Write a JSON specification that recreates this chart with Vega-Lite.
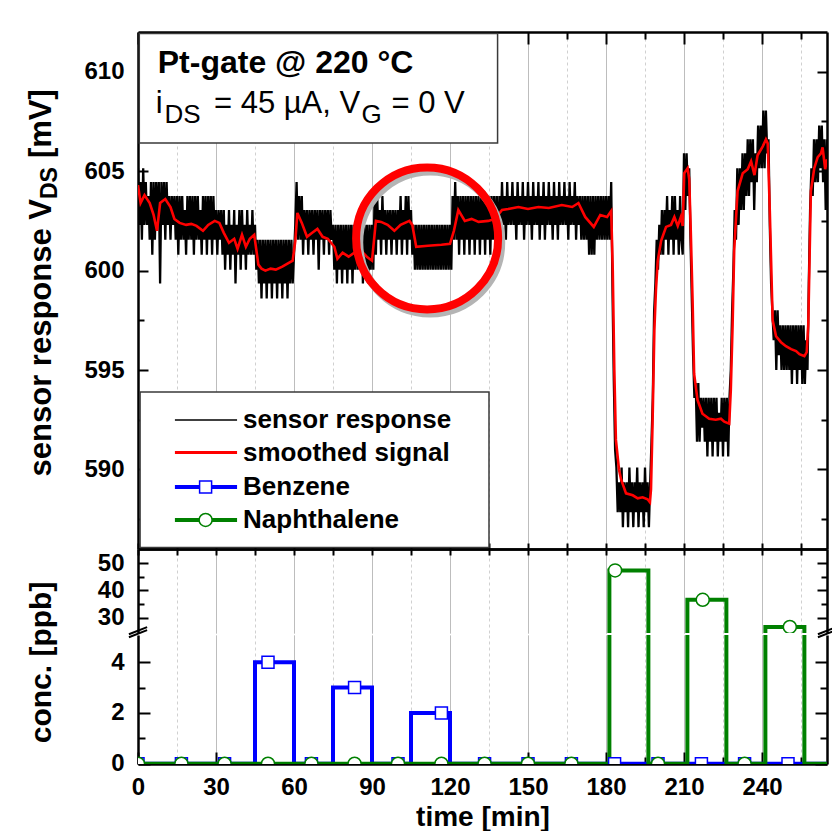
{
"$schema": "https://vega.github.io/schema/vega-lite/v6.json",
"background": "white",
"padding": {"left": 26, "top": 31, "right": 0, "bottom": 0},
"config": {
 "view": {"stroke": null},
 "font": "Liberation Sans, Arial, sans-serif",
 "axis": {"domainColor": "black", "domainWidth": 2.5, "tickColor": "black", "tickWidth": 2, "labelColor": "black", "labelFontWeight": "bold", "labelFontSize": 24, "titleColor": "black", "titleFontWeight": "bold", "labelFont": "Liberation Sans, Arial, sans-serif", "titleFont": "Liberation Sans, Arial, sans-serif", "grid": false, "labelFlush": false, "labelOverlap": false}
},
"datasets": {
 "raw": [
{"t":0,"v":605.15},{"t":0.5,"v":602.3},{"t":1,"v":604.45},{"t":1.5,"v":601.55},{"t":2,"v":605.15},{"t":2.5,"v":602.3},{"t":3,"v":604.45},{"t":3.5,"v":602.3},{"t":4,"v":603.75},{"t":4.5,"v":601.55},
{"t":5,"v":604.45},{"t":5.5,"v":600.8},{"t":6,"v":604.45},{"t":6.5,"v":601.55},{"t":7,"v":604.45},{"t":7.5,"v":602.3},{"t":8,"v":604.45},{"t":8.5,"v":599.35},{"t":9,"v":604.45},{"t":9.5,"v":602.3},
{"t":10,"v":604.45},{"t":10.5,"v":601.55},{"t":11,"v":604.45},{"t":11.5,"v":602.3},{"t":12,"v":603.75},{"t":12.5,"v":601.55},{"t":13,"v":603.75},{"t":13.5,"v":602.3},{"t":14,"v":603.75},{"t":14.5,"v":601.55},
{"t":15,"v":603.75},{"t":15.5,"v":600.8},{"t":16,"v":603.75},{"t":16.5,"v":601.55},{"t":17,"v":603.75},{"t":17.5,"v":601.55},{"t":18,"v":603.05},{"t":18.5,"v":600.8},{"t":19,"v":603.75},{"t":19.5,"v":601.55},
{"t":20,"v":603.75},{"t":20.5,"v":601.55},{"t":21,"v":603.75},{"t":21.5,"v":600.8},{"t":22,"v":603.75},{"t":22.5,"v":601.55},{"t":23,"v":603.75},{"t":23.5,"v":601.55},{"t":24,"v":603.05},{"t":24.5,"v":600.8},
{"t":25,"v":603.75},{"t":25.5,"v":601.55},{"t":26,"v":603.75},{"t":26.5,"v":600.8},{"t":27,"v":603.75},{"t":27.5,"v":601.55},{"t":28,"v":603.75},{"t":28.5,"v":600.8},{"t":29,"v":603.75},{"t":29.5,"v":601.55},
{"t":30,"v":603.05},{"t":30.5,"v":600.8},{"t":31,"v":603.05},{"t":31.5,"v":601.55},{"t":32,"v":603.05},{"t":32.5,"v":600.8},{"t":33,"v":603.05},{"t":33.5,"v":600.05},{"t":34,"v":602.3},{"t":34.5,"v":600.8},
{"t":35,"v":603.05},{"t":35.5,"v":600.05},{"t":36,"v":602.3},{"t":36.5,"v":600.8},{"t":37,"v":603.05},{"t":37.5,"v":599.35},{"t":38,"v":602.3},{"t":38.5,"v":600.8},{"t":39,"v":603.05},{"t":39.5,"v":600.05},
{"t":40,"v":603.05},{"t":40.5,"v":600.8},{"t":41,"v":602.3},{"t":41.5,"v":600.05},{"t":42,"v":603.05},{"t":42.5,"v":600.8},{"t":43,"v":602.3},{"t":43.5,"v":600.8},{"t":44,"v":603.05},{"t":44.5,"v":600.8},
{"t":45,"v":602.3},{"t":45.5,"v":600.05},{"t":46,"v":601.55},{"t":46.5,"v":599.35},{"t":47,"v":601.55},{"t":47.5,"v":598.6},{"t":48,"v":601.55},{"t":48.5,"v":599.35},{"t":49,"v":601.55},{"t":49.5,"v":598.6},
{"t":50,"v":601.55},{"t":50.5,"v":599.35},{"t":51,"v":601.55},{"t":51.5,"v":598.6},{"t":52,"v":601.55},{"t":52.5,"v":599.35},{"t":53,"v":601.55},{"t":53.5,"v":598.6},{"t":54,"v":601.55},{"t":54.5,"v":599.35},
{"t":55,"v":601.55},{"t":55.5,"v":598.6},{"t":56,"v":601.55},{"t":56.5,"v":599.35},{"t":57,"v":601.55},{"t":57.5,"v":598.6},{"t":58,"v":601.55},{"t":58.5,"v":599.35},{"t":59,"v":601.55},{"t":59.5,"v":599.35},
{"t":60,"v":600.8},{"t":60.5,"v":602.3},{"t":61,"v":604.45},{"t":61.5,"v":601.55},{"t":62,"v":603.75},{"t":62.5,"v":601.55},{"t":63,"v":603.75},{"t":63.5,"v":600.8},{"t":64,"v":603.05},{"t":64.5,"v":601.55},
{"t":65,"v":603.05},{"t":65.5,"v":600.8},{"t":66,"v":603.05},{"t":66.5,"v":601.55},{"t":67,"v":603.05},{"t":67.5,"v":600.8},{"t":68,"v":603.05},{"t":68.5,"v":601.55},{"t":69,"v":603.05},{"t":69.5,"v":600.05},
{"t":70,"v":603.05},{"t":70.5,"v":601.55},{"t":71,"v":603.05},{"t":71.5,"v":600.8},{"t":72,"v":603.05},{"t":72.5,"v":601.55},{"t":73,"v":603.05},{"t":73.5,"v":600.8},{"t":74,"v":603.05},{"t":74.5,"v":601.55},
{"t":75,"v":602.3},{"t":75.5,"v":600.05},{"t":76,"v":602.3},{"t":76.5,"v":599.35},{"t":77,"v":602.3},{"t":77.5,"v":600.05},{"t":78,"v":602.3},{"t":78.5,"v":599.35},{"t":79,"v":602.3},{"t":79.5,"v":600.05},
{"t":80,"v":602.3},{"t":80.5,"v":599.35},{"t":81,"v":602.3},{"t":81.5,"v":600.05},{"t":82,"v":602.3},{"t":82.5,"v":599.35},{"t":83,"v":602.3},{"t":83.5,"v":600.05},{"t":84,"v":602.3},{"t":84.5,"v":600.05},
{"t":85,"v":602.3},{"t":85.5,"v":600.05},{"t":86,"v":602.3},{"t":86.5,"v":599.35},{"t":87,"v":602.3},{"t":87.5,"v":600.05},{"t":88,"v":602.3},{"t":88.5,"v":599.35},{"t":89,"v":602.3},{"t":89.5,"v":600.05},
{"t":90,"v":602.3},{"t":90.5,"v":600.05},{"t":91,"v":603.75},{"t":91.5,"v":600.8},{"t":92,"v":603.75},{"t":92.5,"v":601.55},{"t":93,"v":603.05},{"t":93.5,"v":600.8},{"t":94,"v":603.75},{"t":94.5,"v":601.55},
{"t":95,"v":603.05},{"t":95.5,"v":600.8},{"t":96,"v":603.05},{"t":96.5,"v":601.55},{"t":97,"v":603.05},{"t":97.5,"v":600.8},{"t":98,"v":603.05},{"t":98.5,"v":601.55},{"t":99,"v":603.05},{"t":99.5,"v":600.8},
{"t":100,"v":603.05},{"t":100.5,"v":601.55},{"t":101,"v":603.75},{"t":101.5,"v":600.8},{"t":102,"v":603.05},{"t":102.5,"v":601.55},{"t":103,"v":603.75},{"t":103.5,"v":600.8},{"t":104,"v":603.75},{"t":104.5,"v":601.55},
{"t":105,"v":603.05},{"t":105.5,"v":600.8},{"t":106,"v":602.3},{"t":106.5,"v":600.05},{"t":107,"v":602.3},{"t":107.5,"v":600.05},{"t":108,"v":602.3},{"t":108.5,"v":600.05},{"t":109,"v":602.3},{"t":109.5,"v":600.05},
{"t":110,"v":602.3},{"t":110.5,"v":600.05},{"t":111,"v":602.3},{"t":111.5,"v":600.05},{"t":112,"v":602.3},{"t":112.5,"v":600.05},{"t":113,"v":602.3},{"t":113.5,"v":600.05},{"t":114,"v":602.3},{"t":114.5,"v":600.05},
{"t":115,"v":602.3},{"t":115.5,"v":600.05},{"t":116,"v":602.3},{"t":116.5,"v":600.05},{"t":117,"v":602.3},{"t":117.5,"v":600.05},{"t":118,"v":602.3},{"t":118.5,"v":600.05},{"t":119,"v":602.3},{"t":119.5,"v":600.05},
{"t":120,"v":602.3},{"t":120.5,"v":600.05},{"t":121,"v":603.75},{"t":121.5,"v":601.55},{"t":122,"v":604.45},{"t":122.5,"v":601.55},{"t":123,"v":603.75},{"t":123.5,"v":600.8},{"t":124,"v":603.75},{"t":124.5,"v":601.55},
{"t":125,"v":603.75},{"t":125.5,"v":600.8},{"t":126,"v":603.75},{"t":126.5,"v":601.55},{"t":127,"v":603.75},{"t":127.5,"v":600.8},{"t":128,"v":603.75},{"t":128.5,"v":601.55},{"t":129,"v":603.75},{"t":129.5,"v":600.8},
{"t":130,"v":603.75},{"t":130.5,"v":601.55},{"t":131,"v":603.75},{"t":131.5,"v":600.8},{"t":132,"v":603.75},{"t":132.5,"v":601.55},{"t":133,"v":603.75},{"t":133.5,"v":600.8},{"t":134,"v":603.75},{"t":134.5,"v":601.55},
{"t":135,"v":603.75},{"t":135.5,"v":600.8},{"t":136,"v":603.75},{"t":136.5,"v":601.55},{"t":137,"v":603.75},{"t":137.5,"v":601.55},{"t":138,"v":603.75},{"t":138.5,"v":600.8},{"t":139,"v":603.75},{"t":139.5,"v":601.55},
{"t":140,"v":604.45},{"t":140.5,"v":602.3},{"t":141,"v":603.75},{"t":141.5,"v":601.55},{"t":142,"v":604.45},{"t":142.5,"v":602.3},{"t":143,"v":603.75},{"t":143.5,"v":602.3},{"t":144,"v":604.45},{"t":144.5,"v":602.3},
{"t":145,"v":603.75},{"t":145.5,"v":601.55},{"t":146,"v":604.45},{"t":146.5,"v":602.3},{"t":147,"v":603.75},{"t":147.5,"v":602.3},{"t":148,"v":604.45},{"t":148.5,"v":601.55},{"t":149,"v":603.75},{"t":149.5,"v":602.3},
{"t":150,"v":604.45},{"t":150.5,"v":602.3},{"t":151,"v":603.75},{"t":151.5,"v":601.55},{"t":152,"v":604.45},{"t":152.5,"v":602.3},{"t":153,"v":603.75},{"t":153.5,"v":602.3},{"t":154,"v":604.45},{"t":154.5,"v":601.55},
{"t":155,"v":603.75},{"t":155.5,"v":602.3},{"t":156,"v":604.45},{"t":156.5,"v":601.55},{"t":157,"v":603.75},{"t":157.5,"v":602.3},{"t":158,"v":604.45},{"t":158.5,"v":602.3},{"t":159,"v":603.75},{"t":159.5,"v":601.55},
{"t":160,"v":604.45},{"t":160.5,"v":602.3},{"t":161,"v":603.75},{"t":161.5,"v":601.55},{"t":162,"v":604.45},{"t":162.5,"v":602.3},{"t":163,"v":603.75},{"t":163.5,"v":602.3},{"t":164,"v":604.45},{"t":164.5,"v":602.3},
{"t":165,"v":603.75},{"t":165.5,"v":601.55},{"t":166,"v":604.45},{"t":166.5,"v":602.3},{"t":167,"v":603.75},{"t":167.5,"v":602.3},{"t":168,"v":604.45},{"t":168.5,"v":601.55},{"t":169,"v":603.75},{"t":169.5,"v":602.3},
{"t":170,"v":603.75},{"t":170.5,"v":601.55},{"t":171,"v":603.75},{"t":171.5,"v":601.55},{"t":172,"v":603.75},{"t":172.5,"v":601.55},{"t":173,"v":603.75},{"t":173.5,"v":600.8},{"t":174,"v":603.75},{"t":174.5,"v":600.8},
{"t":175,"v":603.75},{"t":175.5,"v":600.8},{"t":176,"v":603.75},{"t":176.5,"v":601.55},{"t":177,"v":603.75},{"t":177.5,"v":601.55},{"t":178,"v":603.75},{"t":178.5,"v":601.55},{"t":179,"v":603.75},{"t":179.5,"v":601.55},
{"t":180,"v":603.75},{"t":180.5,"v":601.55},{"t":181,"v":603.75},{"t":181.5,"v":601.55},{"t":182,"v":604.45},{"t":182.5,"v":599.0},{"t":183,"v":594.5},{"t":183.5,"v":591.0},{"t":184,"v":590.1},{"t":184.5,"v":587.85},
{"t":185,"v":589.35},{"t":185.5,"v":587.85},{"t":186,"v":590.1},{"t":186.5,"v":587.1},{"t":187,"v":589.35},{"t":187.5,"v":587.85},{"t":188,"v":589.35},{"t":188.5,"v":587.1},{"t":189,"v":590.1},{"t":189.5,"v":587.85},
{"t":190,"v":589.35},{"t":190.5,"v":587.1},{"t":191,"v":589.35},{"t":191.5,"v":587.85},{"t":192,"v":590.1},{"t":192.5,"v":587.1},{"t":193,"v":589.35},{"t":193.5,"v":587.85},{"t":194,"v":589.35},{"t":194.5,"v":587.1},
{"t":195,"v":590.1},{"t":195.5,"v":587.85},{"t":196,"v":589.35},{"t":196.5,"v":587.1},{"t":197,"v":589.35},{"t":197.5,"v":591.4},{"t":198,"v":593.6},{"t":198.5,"v":597.9},{"t":199,"v":599.35},{"t":199.5,"v":601.55},
{"t":200,"v":600.05},{"t":200.5,"v":602.3},{"t":201,"v":600.8},{"t":201.5,"v":603.05},{"t":202,"v":600.8},{"t":202.5,"v":603.05},{"t":203,"v":601.55},{"t":203.5,"v":603.75},{"t":204,"v":600.8},{"t":204.5,"v":603.05},
{"t":205,"v":601.55},{"t":205.5,"v":603.75},{"t":206,"v":600.8},{"t":206.5,"v":603.75},{"t":207,"v":601.55},{"t":207.5,"v":603.05},{"t":208,"v":600.8},{"t":208.5,"v":603.75},{"t":209,"v":601.55},{"t":209.5,"v":600.8},
{"t":210,"v":605.9},{"t":210.5,"v":603.05},{"t":211,"v":605.9},{"t":211.5,"v":603.75},{"t":212,"v":605.15},{"t":212.5,"v":601.55},{"t":213,"v":598.6},{"t":213.5,"v":595.75},{"t":214,"v":593.6},{"t":214.5,"v":594.35},
{"t":215,"v":591.4},{"t":215.5,"v":594.35},{"t":216,"v":591.4},{"t":216.5,"v":593.6},{"t":217,"v":592.1},{"t":217.5,"v":593.6},{"t":218,"v":591.4},{"t":218.5,"v":593.6},{"t":219,"v":590.65},{"t":219.5,"v":593.6},
{"t":220,"v":591.4},{"t":220.5,"v":593.6},{"t":221,"v":590.65},{"t":221.5,"v":593.6},{"t":222,"v":591.4},{"t":222.5,"v":593.6},{"t":223,"v":590.65},{"t":223.5,"v":592.85},{"t":224,"v":591.4},{"t":224.5,"v":593.6},
{"t":225,"v":590.65},{"t":225.5,"v":593.6},{"t":226,"v":591.4},{"t":226.5,"v":593.6},{"t":227,"v":590.65},{"t":227.5,"v":593.6},{"t":228,"v":595.0},{"t":228.5,"v":597.9},{"t":229,"v":600.05},{"t":229.5,"v":603.05},
{"t":230,"v":601.55},{"t":230.5,"v":605.15},{"t":231,"v":602.3},{"t":231.5,"v":605.15},{"t":232,"v":603.05},{"t":232.5,"v":605.9},{"t":233,"v":603.05},{"t":233.5,"v":605.9},{"t":234,"v":603.75},{"t":234.5,"v":606.6},
{"t":235,"v":603.75},{"t":235.5,"v":606.6},{"t":236,"v":604.45},{"t":236.5,"v":606.6},{"t":237,"v":603.05},{"t":237.5,"v":605.9},{"t":238,"v":604.45},{"t":238.5,"v":607.3},{"t":239,"v":605.15},{"t":239.5,"v":607.3},
{"t":240,"v":605.15},{"t":240.5,"v":608.05},{"t":241,"v":605.15},{"t":241.5,"v":608.05},{"t":242,"v":605.9},{"t":242.5,"v":606.6},{"t":243,"v":602.3},{"t":243.5,"v":599.35},{"t":244,"v":597.9},{"t":244.5,"v":596.5},
{"t":245,"v":598.0},{"t":245.5,"v":595.0},{"t":246,"v":598.0},{"t":246.5,"v":595.75},{"t":247,"v":597.25},{"t":247.5,"v":595.0},{"t":248,"v":597.25},{"t":248.5,"v":595.0},{"t":249,"v":597.25},{"t":249.5,"v":595.0},
{"t":250,"v":597.25},{"t":250.5,"v":595.0},{"t":251,"v":597.25},{"t":251.5,"v":594.3},{"t":252,"v":597.25},{"t":252.5,"v":595.0},{"t":253,"v":597.25},{"t":253.5,"v":594.3},{"t":254,"v":597.25},{"t":254.5,"v":595.0},
{"t":255,"v":597.25},{"t":255.5,"v":594.3},{"t":256,"v":597.25},{"t":256.5,"v":594.3},{"t":257,"v":596.5},{"t":257.5,"v":595.0},{"t":258,"v":599.35},{"t":258.5,"v":603.05},{"t":259,"v":605.15},{"t":259.5,"v":603.75},
{"t":260,"v":606.6},{"t":260.5,"v":604.45},{"t":261,"v":606.6},{"t":261.5,"v":604.45},{"t":262,"v":607.3},{"t":262.5,"v":605.15},{"t":263,"v":607.3},{"t":263.5,"v":604.45},{"t":264,"v":606.6},{"t":264.5,"v":603.05},
{"t":265,"v":606.6}
 ],
 "smooth": [
{"t":0,"v":604.3},{"t":1,"v":603.4},{"t":2.5,"v":603.8},{"t":4.5,"v":603.4},{"t":6,"v":602.8},{"t":7.3,"v":602.0},{"t":8.5,"v":603.4},{"t":10.5,"v":603.6},{"t":12.5,"v":603.2},{"t":14,"v":602.6},{"t":16,"v":602.4},{"t":18.5,"v":602.3},{"t":20.5,"v":602.35},{"t":22.5,"v":602.25},{"t":25,"v":602.0},{"t":27,"v":602.3},{"t":29.5,"v":602.5},{"t":31.3,"v":602.4},{"t":33,"v":601.9},{"t":35,"v":601.4},{"t":37,"v":601.6},{"t":38.3,"v":601.1},{"t":40,"v":601.8},{"t":41.5,"v":601.2},{"t":43,"v":601.6},{"t":44.7,"v":601.8},{"t":46.3,"v":600.3},{"t":47.5,"v":600.1},{"t":49,"v":600.0},{"t":51,"v":600.1},{"t":53,"v":600.05},{"t":55.5,"v":600.2},{"t":57.5,"v":600.35},{"t":59.5,"v":600.5},{"t":60.5,"v":601.5},{"t":61.3,"v":602.9},{"t":63,"v":602.4},{"t":65,"v":601.7},{"t":67,"v":601.9},{"t":69,"v":602.1},{"t":71,"v":601.7},{"t":73,"v":601.6},{"t":75.5,"v":601.2},{"t":76.7,"v":600.6},{"t":78.7,"v":600.9},{"t":81,"v":600.7},{"t":83.2,"v":600.9},{"t":85.8,"v":601.0},{"t":88,"v":600.7},{"t":90,"v":600.5},{"t":91.5,"v":602.5},{"t":93.5,"v":602.45},{"t":96,"v":602.3},{"t":98.6,"v":602.0},{"t":101,"v":602.3},{"t":104.4,"v":602.5},{"t":105.5,"v":602.3},{"t":107,"v":601.2},{"t":111.5,"v":601.25},{"t":116.7,"v":601.3},{"t":120,"v":601.35},{"t":121.5,"v":602.0},{"t":123.2,"v":603.05},{"t":125.7,"v":602.5},{"t":128.3,"v":602.6},{"t":131,"v":602.45},{"t":134.7,"v":602.5},{"t":137.3,"v":602.6},{"t":140,"v":603.05},{"t":142.4,"v":603.1},{"t":146.3,"v":603.2},{"t":150,"v":603.1},{"t":154,"v":603.2},{"t":158,"v":603.15},{"t":163,"v":603.3},{"t":167,"v":603.2},{"t":169.4,"v":603.4},{"t":172,"v":602.7},{"t":175.3,"v":602.2},{"t":177.8,"v":602.8},{"t":180.4,"v":602.7},{"t":182,"v":603.0},{"t":182.6,"v":600.0},{"t":183.2,"v":595.0},{"t":183.8,"v":591.5},{"t":185,"v":590.0},{"t":185.8,"v":589.5},{"t":187.7,"v":588.8},{"t":190.3,"v":588.7},{"t":192.2,"v":588.55},{"t":194.1,"v":588.6},{"t":196,"v":588.5},{"t":196.9,"v":588.35},{"t":197.3,"v":589.0},{"t":197.9,"v":592.3},{"t":198.6,"v":597.0},{"t":199.2,"v":599.0},{"t":199.9,"v":600.5},{"t":201.2,"v":601.5},{"t":203.1,"v":602.2},{"t":205,"v":602.3},{"t":206.3,"v":602.7},{"t":207.6,"v":602.25},{"t":208.8,"v":602.7},{"t":209.5,"v":602.25},{"t":210.1,"v":604.9},{"t":211.4,"v":605.15},{"t":212,"v":604.6},{"t":212.6,"v":602.0},{"t":213.3,"v":598.5},{"t":213.9,"v":594.8},{"t":215.2,"v":593.5},{"t":217.1,"v":592.8},{"t":219.7,"v":592.55},{"t":222.2,"v":592.5},{"t":224.2,"v":592.55},{"t":225.5,"v":592.4},{"t":227.4,"v":592.3},{"t":228,"v":594.0},{"t":228.7,"v":597.3},{"t":229.3,"v":601.0},{"t":230.6,"v":604.0},{"t":232.6,"v":604.9},{"t":234.5,"v":605.1},{"t":235.8,"v":605.5},{"t":237.1,"v":604.8},{"t":238.3,"v":605.8},{"t":240.3,"v":606.25},{"t":241.5,"v":606.6},{"t":242.2,"v":606.4},{"t":243,"v":603.0},{"t":243.5,"v":600.5},{"t":244.1,"v":597.5},{"t":245.4,"v":596.7},{"t":247.3,"v":596.4},{"t":249.2,"v":596.2},{"t":251.2,"v":596.05},{"t":253.1,"v":595.95},{"t":254.4,"v":595.8},{"t":256.3,"v":595.7},{"t":257.2,"v":595.9},{"t":257.8,"v":597.3},{"t":258.2,"v":600.0},{"t":258.8,"v":604.0},{"t":260.1,"v":605.15},{"t":261.4,"v":605.7},{"t":262.7,"v":605.9},{"t":263.3,"v":606.2},{"t":264.3,"v":605.1},{"t":265,"v":605.6}
 ],
 "benz": [{"t":0,"c":0},{"t":45,"c":4},{"t":60,"c":0},{"t":75,"c":3},{"t":90,"c":0},{"t":105,"c":2},{"t":120,"c":0},{"t":265,"c":0}],
 "naph": [{"t":0,"c":0},{"t":181.3,"c":47.3},{"t":196.3,"c":0},{"t":211.3,"c":36.6},{"t":226.3,"c":0},{"t":241.3,"c":26.7},{"t":256.3,"c":0},{"t":265,"c":0}],
 "benzm": [{"t":0,"c":0},{"t":16.7,"c":0},{"t":33.3,"c":0},{"t":50,"c":4},{"t":66.7,"c":0},{"t":83.3,"c":3},{"t":100,"c":0},{"t":116.7,"c":2},{"t":133.3,"c":0},{"t":150,"c":0},{"t":166.7,"c":0},{"t":183.3,"c":0},{"t":200,"c":0},{"t":216.7,"c":0},{"t":233.3,"c":0},{"t":250,"c":0}],
 "naphm": [{"t":0,"c":0},{"t":16.7,"c":0},{"t":33.3,"c":0},{"t":50,"c":0},{"t":66.7,"c":0},{"t":83.3,"c":0},{"t":100,"c":0},{"t":116.7,"c":0},{"t":133.3,"c":0},{"t":150,"c":0},{"t":166.7,"c":0},{"t":183.5,"c":47.3},{"t":200,"c":0},{"t":217.2,"c":36.6},{"t":233.3,"c":0},{"t":250.7,"c":26.7}]
},
"spacing": 0,
"bounds": "flush",
"resolve": {"scale": {"x": "independent", "y": "independent"}},
"vconcat": [
 {
  "width": 689, "height": 517,
  "data": {"values": [{}]},
  "resolve": {"axis": {"x": "independent", "y": "independent"}},
  "layer": [
   {"data": {"name": "raw"}, "mark": {"type": "line", "color": "black", "strokeWidth": 2.3, "clip": true},
    "encoding": {
     "x": {"field": "t", "type": "quantitative", "scale": {"domain": [0, 265], "nice": false, "zero": false},
      "axis": {"orient": "bottom", "values": [0,15,30,45,60,75,90,105,120,135,150,165,180,195,210,225,240,255], "labels": false, "title": null, "tickSize": -6, "grid": true, "gridWidth": 1,
       "gridColor": {"condition": {"test": "datum.value % 30 === 0", "value": "#a6a6a6"}, "value": "#d0d0d0"},
       "gridDash": {"condition": {"test": "datum.value % 30 === 0", "value": [1, 0]}, "value": [3, 3]}}},
     "y": {"field": "v", "type": "quantitative", "scale": {"domain": [586, 612], "nice": false, "zero": false},
      "axis": {"orient": "left", "values": [587.5,590,592.5,595,597.5,600,602.5,605,607.5,610], "labelExpr": "datum.value % 5 === 0 ? format(datum.value, 'd') : ''", "tickSize": {"condition": {"test": "datum.value % 5 === 0", "value": -10}, "value": -6}, "labelPadding": 24, "title": null}}
    }},
   {"data": {"name": "smooth"}, "mark": {"type": "line", "color": "#ff0000", "strokeWidth": 2.6, "clip": true},
    "encoding": {
     "x": {"field": "t", "type": "quantitative", "axis": {"orient": "top", "values": [0,15,30,45,60,75,90,105,120,135,150,165,180,195,210,225,240,255], "labels": false, "title": null, "tickSize": {"condition": {"test": "datum.value % 30 === 0", "value": -12}, "value": -7}}},
     "y": {"field": "v", "type": "quantitative", "axis": {"orient": "right", "values": [587.5,590,592.5,595,597.5,600,602.5,605,607.5,610], "labels": false, "title": null, "tickSize": {"condition": {"test": "datum.value % 5 === 0", "value": -10}, "value": -6}}}
    }},
   {"mark": {"type": "rect", "fill": "white", "stroke": "#3a3a3a", "strokeWidth": 1.5},
    "encoding": {"x": {"datum": 0.5, "axis": null}, "x2": {"datum": 138.3}, "y": {"datum": 611.92, "axis": null}, "y2": {"datum": 606.42}}},
   {"mark": {"type": "text", "text": "Pt-gate @ 220 °C", "align": "left", "baseline": "alphabetic", "fontSize": 32, "fontWeight": "bold", "color": "black"},
    "encoding": {"x": {"datum": 7.6, "axis": null}, "y": {"datum": 609.92, "axis": null}}},
   {"mark": {"type": "text", "text": "i", "align": "left", "baseline": "alphabetic", "fontSize": 31, "color": "black"},
    "encoding": {"x": {"datum": 6.8, "axis": null}, "y": {"datum": 607.91, "axis": null}}},
   {"mark": {"type": "text", "text": "DS", "align": "left", "baseline": "alphabetic", "fontSize": 26, "color": "black"},
    "encoding": {"x": {"datum": 10.2, "axis": null}, "y": {"datum": 607.41, "axis": null}}},
   {"mark": {"type": "text", "text": "= 45 µA, V", "align": "left", "baseline": "alphabetic", "fontSize": 31, "color": "black"},
    "encoding": {"x": {"datum": 29.2, "axis": null}, "y": {"datum": 607.91, "axis": null}}},
   {"mark": {"type": "text", "text": "G", "align": "left", "baseline": "alphabetic", "fontSize": 26, "color": "black"},
    "encoding": {"x": {"datum": 86.0, "axis": null}, "y": {"datum": 607.41, "axis": null}}},
   {"mark": {"type": "text", "text": "= 0 V", "align": "left", "baseline": "alphabetic", "fontSize": 31, "color": "black"},
    "encoding": {"x": {"datum": 97.5, "axis": null}, "y": {"datum": 607.91, "axis": null}}},
   {"mark": {"type": "point", "shape": "circle", "filled": false, "color": "#b4b4b4", "strokeWidth": 8, "size": 20164, "opacity": 1},
    "encoding": {"x": {"datum": 112.4, "axis": null}, "y": {"datum": 601.42, "axis": null}}},
   {"mark": {"type": "point", "shape": "circle", "filled": false, "color": "#ff0000", "strokeWidth": 8, "size": 20164, "opacity": 1},
    "encoding": {"x": {"datum": 111.2, "axis": null}, "y": {"datum": 601.62, "axis": null}}},
   {"mark": {"type": "rect", "fill": "white", "stroke": "#3a3a3a", "strokeWidth": 1.5},
    "encoding": {"x": {"datum": 0.8, "axis": null}, "x2": {"datum": 135.0}, "y": {"datum": 593.9, "axis": null}, "y2": {"datum": 586.08}}},
   {"mark": {"type": "rule", "color": "black", "strokeWidth": 1.5},
    "encoding": {"x": {"datum": 14.2, "axis": null}, "x2": {"datum": 38.1}, "y": {"datum": 592.49, "axis": null}}},
   {"mark": {"type": "rule", "color": "#ff0000", "strokeWidth": 3},
    "encoding": {"x": {"datum": 14.2, "axis": null}, "x2": {"datum": 38.1}, "y": {"datum": 590.85, "axis": null}}},
   {"mark": {"type": "rule", "color": "#0000ff", "strokeWidth": 4},
    "encoding": {"x": {"datum": 14.2, "axis": null}, "x2": {"datum": 38.1}, "y": {"datum": 589.12, "axis": null}}},
   {"mark": {"type": "rule", "color": "#008000", "strokeWidth": 4},
    "encoding": {"x": {"datum": 14.2, "axis": null}, "x2": {"datum": 38.1}, "y": {"datum": 587.46, "axis": null}}},
   {"mark": {"type": "point", "shape": "square", "filled": true, "fill": "white", "stroke": "#0000ff", "strokeWidth": 1.5, "size": 144, "opacity": 1},
    "encoding": {"x": {"datum": 26.0, "axis": null}, "y": {"datum": 589.12, "axis": null}}},
   {"mark": {"type": "point", "shape": "circle", "filled": true, "fill": "white", "stroke": "#008000", "strokeWidth": 1.5, "size": 169, "opacity": 1},
    "encoding": {"x": {"datum": 26.0, "axis": null}, "y": {"datum": 587.46, "axis": null}}},
   {"mark": {"type": "text", "text": "sensor response", "align": "left", "baseline": "middle", "fontSize": 26, "fontWeight": "bold", "color": "black"},
    "encoding": {"x": {"datum": 40.4, "axis": null}, "y": {"datum": 592.49, "axis": null}}},
   {"mark": {"type": "text", "text": "smoothed signal", "align": "left", "baseline": "middle", "fontSize": 26, "fontWeight": "bold", "color": "black"},
    "encoding": {"x": {"datum": 40.4, "axis": null}, "y": {"datum": 590.85, "axis": null}}},
   {"mark": {"type": "text", "text": "Benzene", "align": "left", "baseline": "middle", "fontSize": 26, "fontWeight": "bold", "color": "black"},
    "encoding": {"x": {"datum": 40.4, "axis": null}, "y": {"datum": 589.12, "axis": null}}},
   {"mark": {"type": "text", "text": "Naphthalene", "align": "left", "baseline": "middle", "fontSize": 26, "fontWeight": "bold", "color": "black"},
    "encoding": {"x": {"datum": 40.4, "axis": null}, "y": {"datum": 587.46, "axis": null}}},
   {"mark": {"type": "text", "text": "sensor response V", "angle": 270, "align": "right", "baseline": "alphabetic", "fontSize": 31, "fontWeight": "bold", "color": "black"},
    "encoding": {"x": {"datum": -33.46, "axis": null}, "y": {"datum": 603.6, "axis": null}}},
   {"mark": {"type": "text", "text": "DS", "angle": 270, "align": "left", "baseline": "alphabetic", "fontSize": 23, "fontWeight": "bold", "color": "black"},
    "encoding": {"x": {"datum": -31.15, "axis": null}, "y": {"datum": 603.6, "axis": null}}},
   {"mark": {"type": "text", "text": "[mV]", "angle": 270, "align": "left", "baseline": "alphabetic", "fontSize": 31, "fontWeight": "bold", "color": "black"},
    "encoding": {"x": {"datum": -33.46, "axis": null}, "y": {"datum": 605.66, "axis": null}}}
  ]
 },
 {
  "spacing": 2,
  "bounds": "flush",
  "resolve": {"scale": {"x": "independent", "y": "independent"}},
  "vconcat": [
   {
    "width": 689, "height": 84,
    "resolve": {"axis": {"x": "independent", "y": "independent"}},
    "layer": [
     {"data": {"name": "naph"}, "mark": {"type": "line", "interpolate": "step-after", "color": "#008000", "strokeWidth": 4, "clip": true},
      "encoding": {
       "x": {"field": "t", "type": "quantitative", "scale": {"domain": [0, 265], "nice": false, "zero": false},
        "axis": {"orient": "top", "values": [0,15,30,45,60,75,90,105,120,135,150,165,180,195,210,225,240,255], "labels": false, "title": null, "tickSize": -6, "grid": true, "gridWidth": 1,
         "gridColor": {"condition": {"test": "datum.value % 30 === 0", "value": "#a6a6a6"}, "value": "#d0d0d0"},
         "gridDash": {"condition": {"test": "datum.value % 30 === 0", "value": [1, 0]}, "value": [3, 3]}}},
       "y": {"field": "c", "type": "quantitative", "scale": {"domain": [24.5, 55.1], "nice": false, "zero": false},
        "axis": {"orient": "left", "values": [30,35,40,45,50], "labelExpr": "datum.value % 10 === 0 ? format(datum.value, 'd') : ''", "tickSize": {"condition": {"test": "datum.value % 10 === 0", "value": -10}, "value": -6}, "labelPadding": 24, "title": null}}
      }},
     {"data": {"name": "naphm"}, "mark": {"type": "point", "shape": "circle", "filled": true, "fill": "white", "stroke": "#008000", "strokeWidth": 1.5, "size": 169, "opacity": 1, "clip": true},
      "encoding": {
       "x": {"field": "t", "type": "quantitative", "axis": null},
       "y": {"field": "c", "type": "quantitative", "axis": {"orient": "right", "values": [30,35,40,45,50], "labels": false, "title": null, "tickSize": {"condition": {"test": "datum.value % 10 === 0", "value": -10}, "value": -6}}}
      }}
    ]
   },
   {
    "width": 689, "height": 129,
    "data": {"values": [{}]},
    "resolve": {"axis": {"x": "independent", "y": "independent"}},
    "layer": [
     {"data": {"name": "benz"}, "mark": {"type": "line", "interpolate": "step-after", "color": "#0000ff", "strokeWidth": 4, "clip": true},
      "encoding": {
       "x": {"field": "t", "type": "quantitative", "scale": {"domain": [0, 265], "nice": false, "zero": false},
        "axis": {"orient": "bottom", "values": [0,15,30,45,60,75,90,105,120,135,150,165,180,195,210,225,240,255], "labelExpr": "datum.value % 30 === 0 ? format(datum.value, 'd') : ''", "tickSize": {"condition": {"test": "datum.value % 30 === 0", "value": -12}, "value": -7}, "labelPadding": 23, "title": "time [min]", "titleFontSize": 28, "titlePadding": -1, "grid": true, "gridWidth": 1,
         "gridColor": {"condition": {"test": "datum.value % 30 === 0", "value": "#a6a6a6"}, "value": "#d0d0d0"},
         "gridDash": {"condition": {"test": "datum.value % 30 === 0", "value": [1, 0]}, "value": [3, 3]}}},
       "y": {"field": "c", "type": "quantitative", "scale": {"domain": [-0.01, 5.07], "nice": false, "zero": false},
        "axis": {"orient": "left", "values": [0,1,2,3,4], "labelExpr": "datum.value % 2 === 0 ? format(datum.value, 'd') : ''", "tickSize": {"condition": {"test": "datum.value % 2 === 0", "value": -12}, "value": -7}, "labelPadding": 26, "title": null}}
      }},
     {"data": {"name": "naph"}, "mark": {"type": "line", "interpolate": "step-after", "color": "#008000", "strokeWidth": 4, "clip": true},
      "encoding": {
       "x": {"field": "t", "type": "quantitative", "axis": null},
       "y": {"field": "c", "type": "quantitative", "axis": {"orient": "right", "values": [0,1,2,3,4], "labels": false, "title": null, "tickSize": {"condition": {"test": "datum.value % 2 === 0", "value": -12}, "value": -7}}}
      }},
     {"data": {"name": "benzm"}, "mark": {"type": "point", "shape": "square", "filled": true, "fill": "white", "stroke": "#0000ff", "strokeWidth": 1.5, "size": 144, "opacity": 1, "clip": true},
      "encoding": {"x": {"field": "t", "type": "quantitative", "axis": null}, "y": {"field": "c", "type": "quantitative", "axis": null}}},
     {"data": {"name": "naphm"}, "mark": {"type": "point", "shape": "circle", "filled": true, "fill": "white", "stroke": "#008000", "strokeWidth": 1.5, "size": 169, "opacity": 1, "clip": true},
      "encoding": {"x": {"field": "t", "type": "quantitative", "axis": null}, "y": {"field": "c", "type": "quantitative", "axis": null}}},
     {"mark": {"type": "rule", "color": "black", "strokeWidth": 2},
      "encoding": {"x": {"datum": -3.5, "axis": null}, "x2": {"datum": 3.5}, "y": {"datum": 4.98, "axis": null}, "y2": {"datum": 5.26}}},
     {"mark": {"type": "rule", "color": "black", "strokeWidth": 2},
      "encoding": {"x": {"datum": -3.5, "axis": null}, "x2": {"datum": 3.5}, "y": {"datum": 5.1, "axis": null}, "y2": {"datum": 5.38}}},
     {"mark": {"type": "rule", "color": "black", "strokeWidth": 2},
      "encoding": {"x": {"datum": 261.5, "axis": null}, "x2": {"datum": 268.5}, "y": {"datum": 4.98, "axis": null}, "y2": {"datum": 5.26}}},
     {"mark": {"type": "rule", "color": "black", "strokeWidth": 2},
      "encoding": {"x": {"datum": 261.5, "axis": null}, "x2": {"datum": 268.5}, "y": {"datum": 5.1, "axis": null}, "y2": {"datum": 5.38}}},
     {"mark": {"type": "text", "text": "conc. [ppb]", "angle": 270, "align": "center", "baseline": "alphabetic", "fontSize": 30, "fontWeight": "bold", "color": "black"},
      "encoding": {"x": {"datum": -33.46, "axis": null}, "y": {"datum": 3.99, "axis": null}}}
    ]
   }
  ]
 }
]
}
